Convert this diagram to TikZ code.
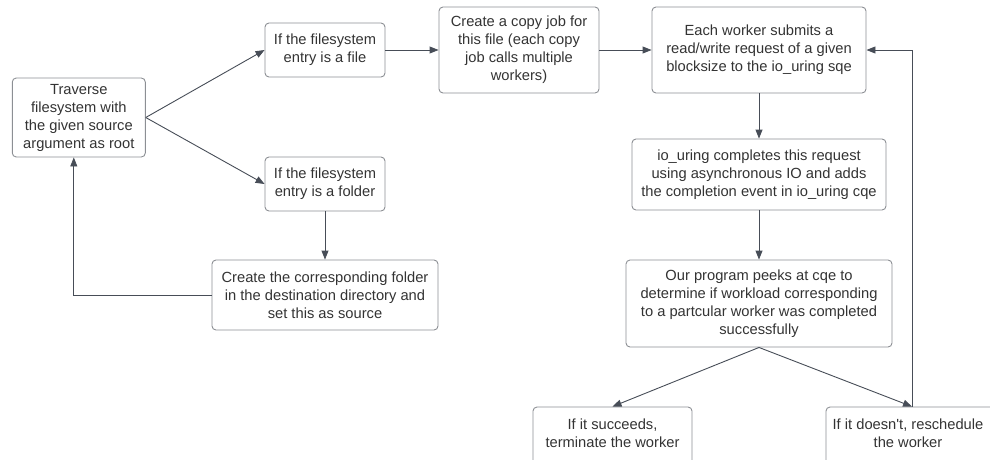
\documentclass[tikz,border=0pt]{standalone}
\usepackage{fontspec}
\setmainfont{Liberation Sans}
\usepackage{tikz}
\usetikzlibrary{arrows.meta}
\definecolor{boxline}{HTML}{8C8F94}
\definecolor{flowline}{HTML}{474D57}
\definecolor{boxtext}{HTML}{333333}
\newcommand{\dropline}{\rule[-12pt]{0pt}{12pt}} % deeper last line, text sits higher
\tikzset{
    >={Triangle[length=9pt,width=7pt]}, % filled triangular heads
    % Rounded process box, size given per node
    stepbox/.style 2 args={draw=boxline, line width=0.9pt, rounded corners=4pt,
        minimum width=#1, minimum height=#2, inner sep=0pt,
        align=center, text=boxtext,
        font=\fontsize{14.7}{18}\selectfont},
    flow/.style={->, draw=flowline, line width=0.9pt}
}

\begin{document}
\begin{tikzpicture}[x=1pt,y=-1pt]
        \useasboundingbox (0,0) rectangle (990,459);
  % Left branch: walking the filesystem
  \node[stepbox={133pt}{79pt}] (trav) at (78.8,117.5)
    {Traverse\\filesystem with\\the given source\\argument as root};
  \node[stepbox={120pt}{54pt}] (isfile) at (325,50)
    {If the filesystem\\entry is a file};
  \node[stepbox={120pt}{54pt}] (isdir) at (325,184)
    {If the filesystem\\entry is a folder};
  \node[stepbox={226pt}{70pt}] (mkdir) at (325,295)
    {Create the corresponding folder\\in the destination directory and\\set this as source};

  % Copy pipeline
  \node[stepbox={160pt}{86pt}] (job) at (519,50)
    {Create a copy job for\\this file (each copy\\job calls multiple\\workers)};
  \node[stepbox={214pt}{86pt}] (submit) at (759,50)
    {Each worker submits a\\read/write request of a given\\blocksize to the io\_uring sqe};
  \node[stepbox={254pt}{71pt}] (done) at (759,174.5)
    {io\_uring completes this request\\using asynchronous IO and adds\\the completion event in io\_uring cqe};
  \node[stepbox={266pt}{87pt}] (peek) at (759,303.5)
    {Our program peeks at cqe to\\determine if workload corresponding\\to a partcular worker was completed\\successfully};

  % Outcomes (run past the lower edge)
  \node[stepbox={159pt}{64pt}] (ok) at (612.5,439)
    {If it succeeds,\\terminate the worker\dropline};
  \node[stepbox={182pt}{64pt}] (retry) at (917,439)
    {If it doesn\textquotesingle t, reschedule\hspace*{18pt}\\the worker\hspace*{18pt}\dropline};

  % Connectors
  \draw[flow] (trav.east) -- (isfile.west);
  \draw[flow] (trav.east) -- (isdir.west);
  \draw[flow] (isdir.south) -- (mkdir.north);
  \draw[flow] (mkdir.west) -| ([xshift=-5pt]trav.south);
  \draw[flow] (isfile.east) -- (job.west);
  \draw[flow] (job.east) -- (submit.west);
  \draw[flow] (submit.south) -- (done.north);
  \draw[flow] (done.south) -- (peek.north);
  \draw[flow] (peek.south) -- (ok.north);
  \draw[flow] (peek.south) -- ([xshift=-5pt]retry.north);
  \draw[flow] ([xshift=-5pt]retry.north) |- (submit.east);

\end{tikzpicture}
\end{document}
